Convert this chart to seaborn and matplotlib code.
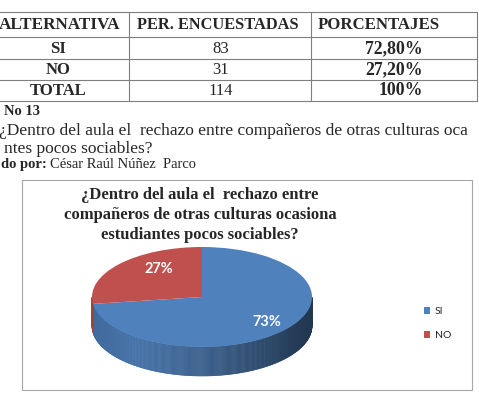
import numpy as np
import matplotlib
matplotlib.use("Agg")
import matplotlib.pyplot as plt
from matplotlib.patches import Polygon, Rectangle
from matplotlib.colors import to_rgb
import seaborn as sns

# -----------------------------
# Data
# -----------------------------
alternativas = ["SI", "NO"]
encuestados = [83, 31]
total = 114
porcentajes = ["72,80%", "27,20%", "100%"]
encabezados = ["ALTERNATIVA", "PER. ENCUESTADAS", "PORCENTAJES"]
filas = ["SI", "NO", "TOTAL"]
titulo = ("¿Dentro del aula el  rechazo entre\n"
          "compañeros de otras culturas ocasiona\n"
          "estudiantes pocos sociables?")
colores = ["#4F81BD", "#C0504D"]

sns.set_style("white")
plt.rcParams['font.family'] = ['Liberation Serif', 'DejaVu Serif']
sans = ['Lato', 'DejaVu Sans']

W, H = 479, 396
fig = plt.figure(figsize=(W / 100, H / 100), dpi=100)

# page axes in pixel coordinates
page = fig.add_axes([0, 0, 1, 1])
page.set_xlim(0, W)
page.set_ylim(H, 0)
page.axis('off')

# -----------------------------
# Table
# -----------------------------
row_y = [12, 37, 59, 80, 101]
col_x = [-12, 129, 311, 477]
line_kw = dict(color='#7f7f7f', lw=0.8)
for y in row_y:
    page.plot([col_x[0], col_x[-1]], [y, y], **line_kw)
for x in col_x:
    page.plot([x, x], [row_y[0], row_y[-1]], **line_kw)

page.text(60, 29, encabezados[0], ha='center', va='baseline', fontsize=12.3, fontweight='bold')
page.text(218, 29, encabezados[1], ha='center', va='baseline', fontsize=11.8, fontweight='bold')
page.text(318, 29, encabezados[2], ha='left', va='baseline', fontsize=12.1, fontweight='bold')

cantidades = encuestados + [total]
for i, base in enumerate([53, 74, 95]):
    page.text(58, base, filas[i], ha='center', va='baseline', fontsize=12, fontweight='bold')
    page.text(221, base, str(cantidades[i]), ha='center', va='baseline', fontsize=12)
    page.text(423, base, porcentajes[i], ha='right', va='baseline', fontsize=12.8, fontweight='bold')

# -----------------------------
# Caption text
# -----------------------------
page.text(4, 115, "No 13", ha='left', va='baseline', fontsize=10.5, fontweight='bold')
page.text(-1, 135, "¿Dentro del aula el  rechazo entre compañeros de otras culturas oca",
          ha='left', va='baseline', fontsize=12.5)
page.text(153, 153, "ntes pocos sociables?", ha='right', va='baseline', fontsize=12.5)
page.text(47, 168, "do por:", ha='right', va='baseline', fontsize=10.5, fontweight='bold')
page.text(50, 168, "César Raúl Núñez  Parco", ha='left', va='baseline', fontsize=10.5)

# -----------------------------
# Chart frame and title
# -----------------------------
page.add_patch(Rectangle((22, 180), 450, 210, facecolor='white', edgecolor='#a6a6a6', lw=0.8))
page.text(200, 215, titulo, ha='center', va='center', fontsize=12, fontweight='bold',
          linespacing=1.3)

# -----------------------------
# 3D-looking pie
# -----------------------------
ax = fig.add_axes([59 / W, 1 - (232 + 155) / H, 286 / W, 155 / H])
wedges, _, pct_txt = ax.pie(encuestados, colors=colores, startangle=90, counterclock=False,
                            autopct='%1.0f%%', pctdistance=0.7,
                            wedgeprops=dict(linewidth=0, zorder=3),
                            textprops=dict(color='white', fontweight='bold', fontsize=10.5,
                                           family=sans))
ax.set_aspect('auto')
ax.set_xlim(-1.3, 1.3)
ax.set_ylim(-1.8, 1.3)
ax.axis('off')

depth = 29 / 50
for w, col in zip(wedges, colores):
    base = np.array(to_rgb(col))
    for k in (-1, 0, 1):
        a0 = max(w.theta1 + 360 * k, -180)
        a1 = min(w.theta2 + 360 * k, 0)
        if a1 <= a0:
            continue
        ts = np.radians(np.linspace(a0, a1, int(a1 - a0) * 2 + 2))
        for t0, t1 in zip(ts[:-1], ts[1:]):
            xm = np.cos((t0 + t1) / 2)
            f = np.interp(xm, [-1, -0.6, 0, 1], [0.82, 0.9, 0.75, 0.42])
            c = np.clip(base * f, 0, 1)
            poly = Polygon([(np.cos(t0), np.sin(t0)), (np.cos(t1), np.sin(t1)),
                            (np.cos(t1), np.sin(t1) - depth), (np.cos(t0), np.sin(t0) - depth)],
                           closed=True, facecolor=c, edgecolor=c, lw=0.4, zorder=1)
            ax.add_patch(poly)

# nudge the percentage labels the way the perspective view places them
label_nudge = [(0.06, -0.04), (0.14, 0.10)]
for t, (dx, dy) in zip(pct_txt, label_nudge):
    x, y = t.get_position()
    t.set_position((x + dx, y + dy))
    t.set_zorder(5)

fig.legend(wedges, alternativas, loc='upper left', bbox_to_anchor=(419 / W, 1 - 302 / H),
           frameon=False, handlelength=0.6, handleheight=0.6, handletextpad=0.4,
           labelspacing=1.45, borderpad=0, prop=dict(family=sans, size=7.5))

fig.savefig("out.png", dpi=100)
